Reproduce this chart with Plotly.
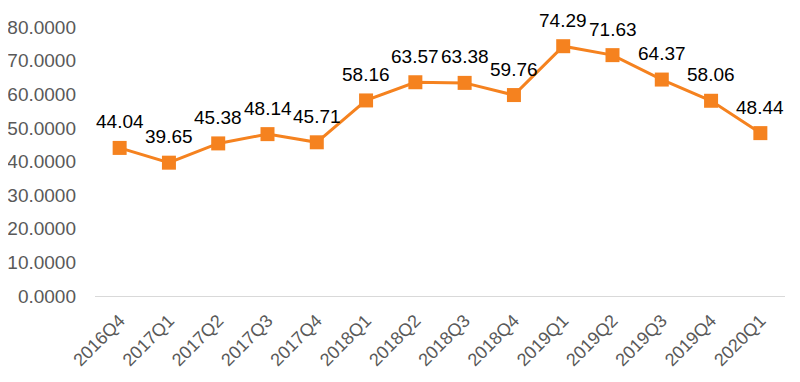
import plotly.graph_objects as go

categories = ["2016Q4", "2017Q1", "2017Q2", "2017Q3", "2017Q4", "2018Q1", "2018Q2",
              "2018Q3", "2018Q4", "2019Q1", "2019Q2", "2019Q3", "2019Q4", "2020Q1"]
values = [44.04, 39.65, 45.38, 48.14, 45.71, 58.16, 63.57, 63.38, 59.76, 74.29, 71.63, 64.37, 58.06, 48.44]
y_ticks = [0, 10, 20, 30, 40, 50, 60, 70, 80]
y_tick_labels = [f"{v:.4f}" for v in y_ticks]

fig = go.Figure()
fig.add_trace(go.Scatter(
    x=categories, y=values,
    mode="lines+markers",
    line=dict(color="#F5821F", width=3),
    marker=dict(symbol="square", size=14, color="#F5821F"),
    cliponaxis=False,
))
for c, v in zip(categories, values):
    fig.add_annotation(
        x=c, y=v, text=f"{v:.2f}", showarrow=False,
        yanchor="middle", yshift=26,
        font=dict(family="Liberation Sans, Arial", size=19, color="#000000"),
    )

fig.update_layout(
    width=800, height=382,
    margin=dict(l=87, r=23, t=19, b=94),
    paper_bgcolor="white", plot_bgcolor="white",
    showlegend=False,
    font=dict(family="Liberation Sans, Arial", size=19, color="#595959"),
)
fig.update_xaxes(
    type="category", range=[-0.5, 13.5], automargin=False,
    showgrid=False, showline=True, linecolor="#D9D9D9", linewidth=1,
    tickangle=-45, ticks="", ticklabelstandoff=6, tickfont=dict(size=18, color="#595959"),
)
fig.update_yaxes(
    range=[0, 80], tickvals=y_ticks, ticktext=y_tick_labels, automargin=False,
    showgrid=False, zeroline=False, showline=False,
    ticks="", ticklabelstandoff=18, tickfont=dict(size=19, color="#595959"),
)

fig.write_html("out.html")
